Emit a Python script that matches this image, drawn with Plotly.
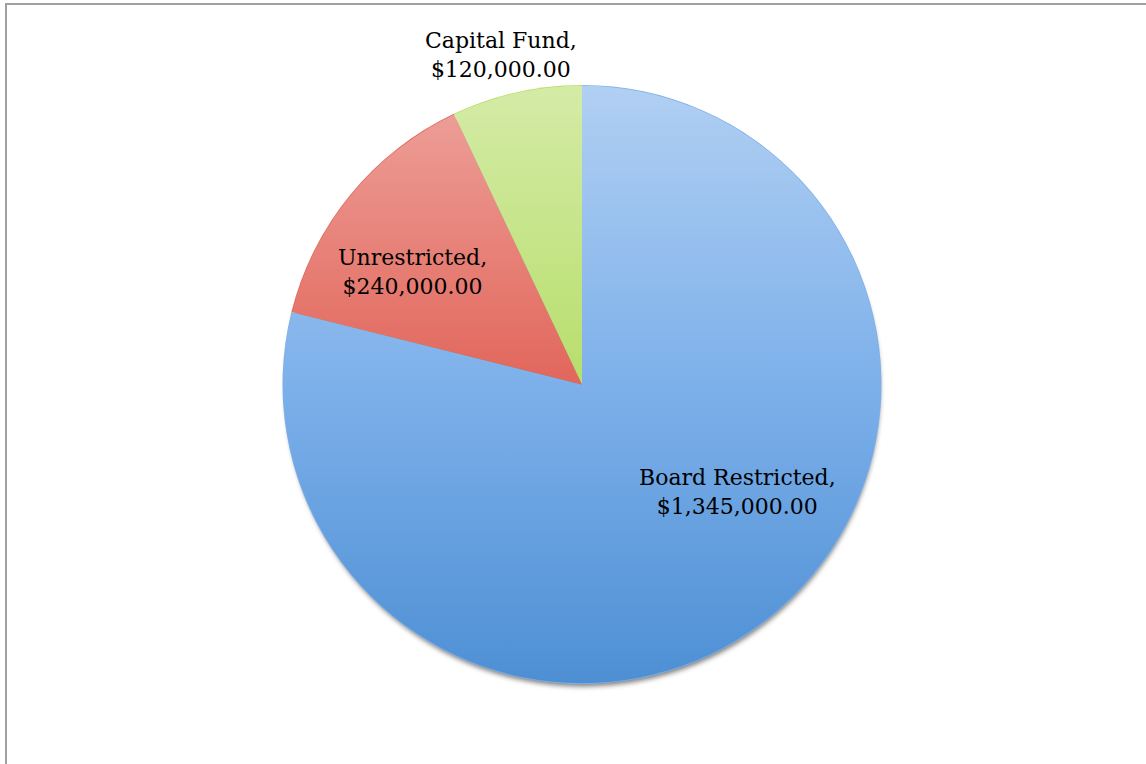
import base64
import plotly.graph_objects as go

categories = ["Board Restricted", "Unrestricted", "Capital Fund"]
values = [1345000, 240000, 120000]
colors = ["#7db0ea", "#e2665b", "#b8de6c"]

W, H = 1146, 764
cx, cy, r = 582, 384.5, 299.5

# label anchor positions (pixels) for the data labels
label_px = [(737, 492), (412, 272), (501, 55)]


def svg_uri(svg):
    return "data:image/svg+xml;base64," + base64.b64encode(svg.encode()).decode()


# vertical shading overlay (decoration) matching the pie circle
shade_svg = (
    '<svg xmlns="http://www.w3.org/2000/svg" width="600" height="600" viewBox="0 0 600 600">'
    '<defs><linearGradient id="g" x1="0" y1="0" x2="0" y2="1">'
    '<stop offset="0" stop-color="#ffffff" stop-opacity="0.40"/>'
    '<stop offset="0.5" stop-color="#ffffff" stop-opacity="0"/>'
    '<stop offset="0.5" stop-color="#1e6ebe" stop-opacity="0"/>'
    '<stop offset="1" stop-color="#1e6ebe" stop-opacity="0.5"/>'
    '</linearGradient></defs>'
    '<circle cx="300" cy="300" r="299.2" fill="url(#g)"/></svg>'
)

pad = 30
shadow_svg = (
    f'<svg xmlns="http://www.w3.org/2000/svg" width="{600 + 2 * pad}" height="{600 + 2 * pad}" '
    f'viewBox="0 0 {600 + 2 * pad} {600 + 2 * pad}">'
    '<defs><filter id="b" x="-20%" y="-20%" width="140%" height="140%">'
    '<feGaussianBlur stdDeviation="2.5"/></filter></defs>'
    f'<circle cx="{300 + pad + 1}" cy="{300 + pad + 5}" r="297.5" fill="#000" fill-opacity="0.5" filter="url(#b)"/></svg>'
)

fig = go.Figure()
fig.add_trace(go.Pie(
    labels=categories,
    values=values,
    sort=False,
    direction="clockwise",
    rotation=0,
    marker=dict(colors=colors, line=dict(width=0)),
    textinfo="none",
    hoverinfo="label+value",
    showlegend=False,
    domain=dict(x=[(cx - r) / W, (cx + r) / W], y=[1 - (cy + r) / H, 1 - (cy - r) / H]),
))

for cat, val, (px, py) in zip(categories, values, label_px):
    fig.add_annotation(
        x=px / W, y=1 - py / H, xref="paper", yref="paper",
        text=f"{cat},<br>${val:,.2f}",
        showarrow=False, xanchor="center", yanchor="middle",
        font=dict(family="DejaVu Serif, Liberation Serif, serif", size=22, color="#000000"),
        align="center",
    )

fig.add_layout_image(
    source=svg_uri(shadow_svg), xref="paper", yref="paper",
    x=(cx - r - pad) / W, y=1 - (cy - r - pad) / H,
    sizex=(2 * r + 2 * pad) / W, sizey=(2 * r + 2 * pad) / H,
    xanchor="left", yanchor="top", sizing="stretch", layer="below",
)
fig.add_layout_image(
    source=svg_uri(shade_svg), xref="paper", yref="paper",
    x=(cx - r) / W, y=1 - (cy - r) / H,
    sizex=(2 * r) / W, sizey=(2 * r) / H,
    xanchor="left", yanchor="top", sizing="stretch", layer="above",
)

fig.add_shape(type="rect", xref="paper", yref="paper",
              x0=6 / W, x1=1.05, y0=-0.05, y1=1 - 4 / H,
              line=dict(color="#a0a0a0", width=2), fillcolor="rgba(0,0,0,0)")

fig.update_layout(
    width=W, height=H,
    margin=dict(l=0, r=0, t=0, b=0),
    paper_bgcolor="white", plot_bgcolor="white",
)

fig.write_html("out.html")
